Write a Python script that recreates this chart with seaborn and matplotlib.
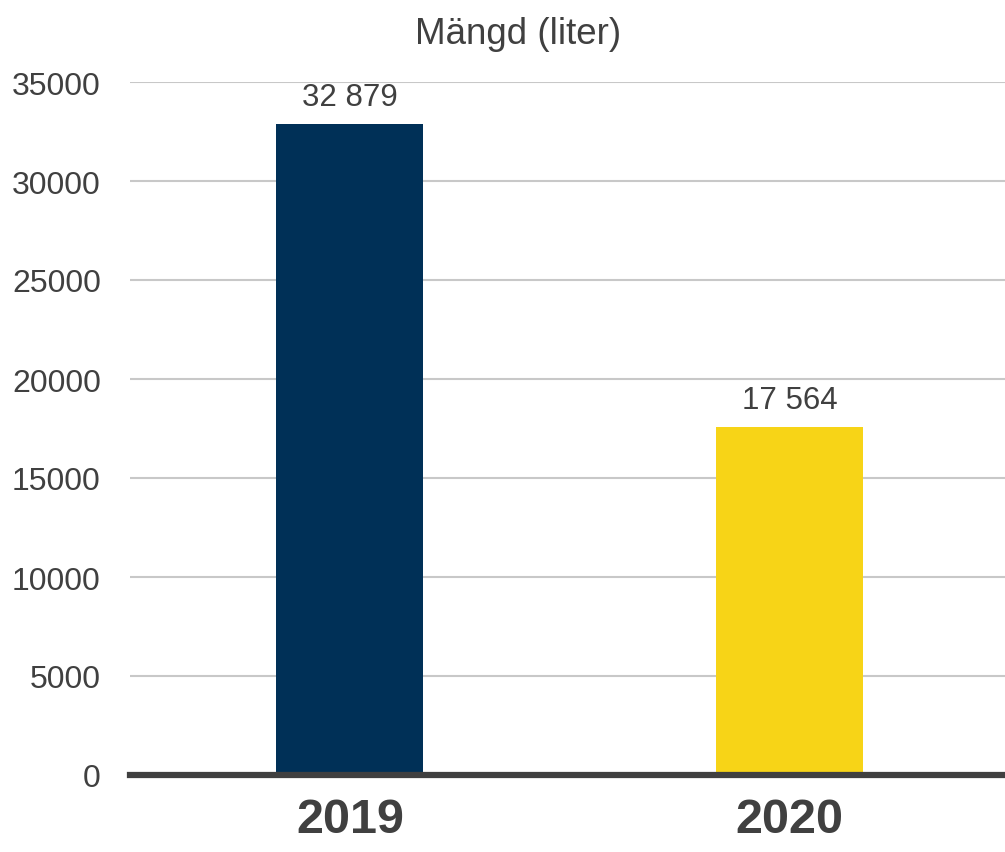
import matplotlib
matplotlib.use("Agg")
import matplotlib.pyplot as plt
import seaborn as sns
import pandas as pd

# data
years = ["2019", "2020"]
amounts = [32879, 17564]
bar_colors = ["#003057", "#F7D417"]
yticks = [0, 5000, 10000, 15000, 20000, 25000, 30000, 35000]

df = pd.DataFrame({"year": years, "amount": amounts})

sns.set_theme(style="white")
plt.rcParams["font.family"] = ["Liberation Sans", "DejaVu Sans"]

fig = plt.figure(figsize=(10.05, 8.53), dpi=100)
ax = fig.add_axes([130 / 1005, 1 - 776 / 853, 875 / 1005, (776 - 83) / 853])

sns.barplot(data=df, x="year", y="amount", hue="year", palette=bar_colors,
            width=0.334, legend=False, ax=ax, saturation=1, zorder=3,
            linewidth=0)

ax.set_ylim(0, 35000)
ax.set_xlim(-0.5, 1.49)
ax.set_yticks(yticks)
ax.set_yticklabels([str(t) for t in yticks], fontsize=23, color="#404040")
ax.yaxis.grid(True, color="#c8c8c8", linewidth=1.5, zorder=0)
ax.set_axisbelow(True)
ax.tick_params(axis="y", length=0, pad=21)
ax.tick_params(axis="x", length=0, pad=16)
for lbl in ax.get_xticklabels():
    lbl.set_fontsize(35)
    lbl.set_fontweight("bold")
    lbl.set_color("#404040")

for s in ["top", "right", "left"]:
    ax.spines[s].set_visible(False)
ax.spines["bottom"].set_color("#404040")
ax.spines["bottom"].set_linewidth(4.5)
ax.spines["bottom"].set_zorder(5)

for i, v in enumerate(amounts):
    ax.text(i, v + 960, f"{v:,}".replace(",", " "), ha="center", va="baseline",
            fontsize=22.5, color="#404040")

ax.set_xlabel("")
ax.set_ylabel("")
fig.text(518 / 1005, 1 - 44 / 853, "Mängd (liter)", ha="center", va="baseline",
         fontsize=26.5, color="#404040")

fig.savefig("out.png", dpi=100)
